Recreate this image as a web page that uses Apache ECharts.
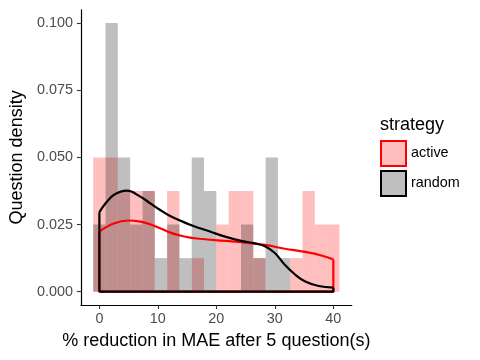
<!DOCTYPE html>
<html>
<head>
<meta charset="utf-8">
<script src="https://cdn.jsdelivr.net/npm/echarts@6/dist/echarts.min.js"></script>
<style>
	html,body{margin:0;padding:0;background:#fff;}
	#chart{width:480px;height:360px;}
</style>
</head>
<body>
<div id="chart"></div>
<script>
	/*data*/
	var binCenters=[0,2.105,4.211,6.316,8.421,10.526,12.632,14.737,16.842,18.947,21.053,23.158,25.263,27.368,29.474,31.579,33.684,35.789,37.895,40];
	var binWidth=2.105;
	var activeDensity=[0.05,0.05,0.0375,0.0375,0.0375,0,0.0375,0,0.0125,0,0.025,0.0375,0.0375,0.0125,0,0,0.0125,0.0375,0.025,0.025];
	var randomDensity=[0.025,0.1,0.05,0.025,0.0375,0.0125,0.025,0.0125,0.05,0.0375,0,0,0.025,0.0125,0.05,0.0125,0,0,0,0];
	var activeCurve=[[0,0.0225],[2.45,0.0254],[4.9,0.0265],[7,0.0261],[8.7,0.0251],[10.4,0.0236],[12.1,0.022],[13.8,0.0209],[15.5,0.0201],[17.2,0.0197],[19.8,0.0192],[24.4,0.0184],[28.3,0.0174],[31.7,0.016],[35.2,0.0148],[38.1,0.0134],[40,0.012]];
	var randomCurve=[[0,0.0296],[1.1,0.033],[2.45,0.036],[4.7,0.0376],[7,0.0354],[8.7,0.0329],[10.4,0.0304],[12.1,0.0282],[13.8,0.0265],[15.5,0.0249],[17.2,0.0236],[18.9,0.0224],[21.5,0.0205],[24.4,0.0188],[26.6,0.018],[28.3,0.0169],[30,0.0144],[31.7,0.01],[33.5,0.0063],[35.2,0.0038],[37.5,0.0021],[40,0.0015]];
	var xTicks=[0,10,20,30,40];
	var yTicks=[0,0.025,0.05,0.075,0.1];
	/*data end*/

	var fills={active:'rgba(255,0,0,0.25)',random:'rgba(0,0,0,0.25)'};
	var lines={active:'#ff0000',random:'#000000'};
	var font='"Liberation Sans", Arial, sans-serif';

	function histData(dens){
		var out=[];
		for (var i = 0; i < binCenters.length; i++) {
			out.push([binCenters[i],dens[i]]);
		}
		return out;
	}
	function renderBin(params,api){
		var c=api.value(0),h=api.value(1);
		if(h<=0){return;}
		var p0=api.coord([c-binWidth/2,h]);
		var p1=api.coord([c+binWidth/2,0]);
		return {
			type:'rect',
			shape:{x:p0[0],y:p0[1],width:p1[0]-p0[0],height:p1[1]-p0[1]},
			style:{fill:api.visual('color')}
		};
	}
	// closing edges of the density polygon (left side, baseline, right side)
	function outline(curve){
		var n=curve.length-1;
		return [[curve[0][0],curve[0][1]],[curve[0][0],0],[curve[n][0],0],[curve[n][0],curve[n][1]]];
	}

	var myChart = echarts.init(document.getElementById('chart'));
	var option = {
		animation:false,
		textStyle:{fontFamily:font},
		title:{
			text:'strategy',
			left:380,
			top:116,
			padding:0,
			textStyle:{fontFamily:font,fontSize:18,fontWeight:'normal',color:'#000'}
		},
		legend:{
			orient:'vertical',
			left:380,
			top:140,
			padding:0,
			itemWidth:25,
			itemHeight:25,
			itemGap:3,
			selectedMode:false,
			textStyle:{fontFamily:font,fontSize:14.4,color:'#000'},
			data:[
				{name:'active',icon:'rect',itemStyle:{color:'#ffbfbf',borderColor:'#ff0000',borderWidth:2}},
				{name:'random',icon:'rect',itemStyle:{color:'#bfbfbf',borderColor:'#000000',borderWidth:2}}
			]
		},
		grid:{left:80.5,right:128.2,top:9.8,bottom:55,containLabel:false},
		xAxis:{
			type:'value',
			min:-3.158,
			max:43.158,
			name:'% reduction in MAE after 5 question(s)',
			nameLocation:'middle',
			nameGap:27,
			nameTextStyle:{fontFamily:font,fontSize:18,color:'#000'},
			axisLine:{show:true,onZero:false,lineStyle:{color:'#000',width:1.2}},
			axisTick:{show:true,customValues:xTicks,length:4,lineStyle:{color:'#333',width:1.1}},
			axisLabel:{customValues:xTicks,margin:7,fontFamily:font,fontSize:14.4,color:'#4d4d4d'},
			splitLine:{show:false}
		},
		yAxis:{
			type:'value',
			min:-0.00496,
			max:0.10496,
			name:'Question density',
			nameLocation:'middle',
			nameRotate:90,
			nameGap:54,
			nameTextStyle:{fontFamily:font,fontSize:18,color:'#000'},
			axisLine:{show:true,onZero:false,lineStyle:{color:'#000',width:1.2}},
			axisTick:{show:true,customValues:yTicks,length:4,lineStyle:{color:'#333',width:1.1}},
			axisLabel:{customValues:yTicks,margin:8,fontFamily:font,fontSize:14.4,color:'#4d4d4d',
				formatter:function(v){return v.toFixed(3);}},
			splitLine:{show:false}
		},
		series:[
			{name:'active',type:'custom',renderItem:renderBin,itemStyle:{color:fills.active},data:histData(activeDensity),z:1},
			{name:'random',type:'custom',renderItem:renderBin,itemStyle:{color:fills.random},data:histData(randomDensity),z:2},
			{name:'activeKde',type:'line',smooth:0.4,showSymbol:false,data:activeCurve,lineStyle:{color:lines.active,width:2.2},z:3},
			{name:'activeEdge',type:'line',showSymbol:false,data:outline(activeCurve),lineStyle:{color:lines.active,width:2.2},z:3},
			{name:'randomKde',type:'line',smooth:0.4,showSymbol:false,data:randomCurve,lineStyle:{color:lines.random,width:2.2},z:4},
			{name:'randomEdge',type:'line',showSymbol:false,data:outline(randomCurve),lineStyle:{color:lines.random,width:2.2},z:4}
		]
	};
	myChart.setOption(option);
</script>
</body>
</html>
